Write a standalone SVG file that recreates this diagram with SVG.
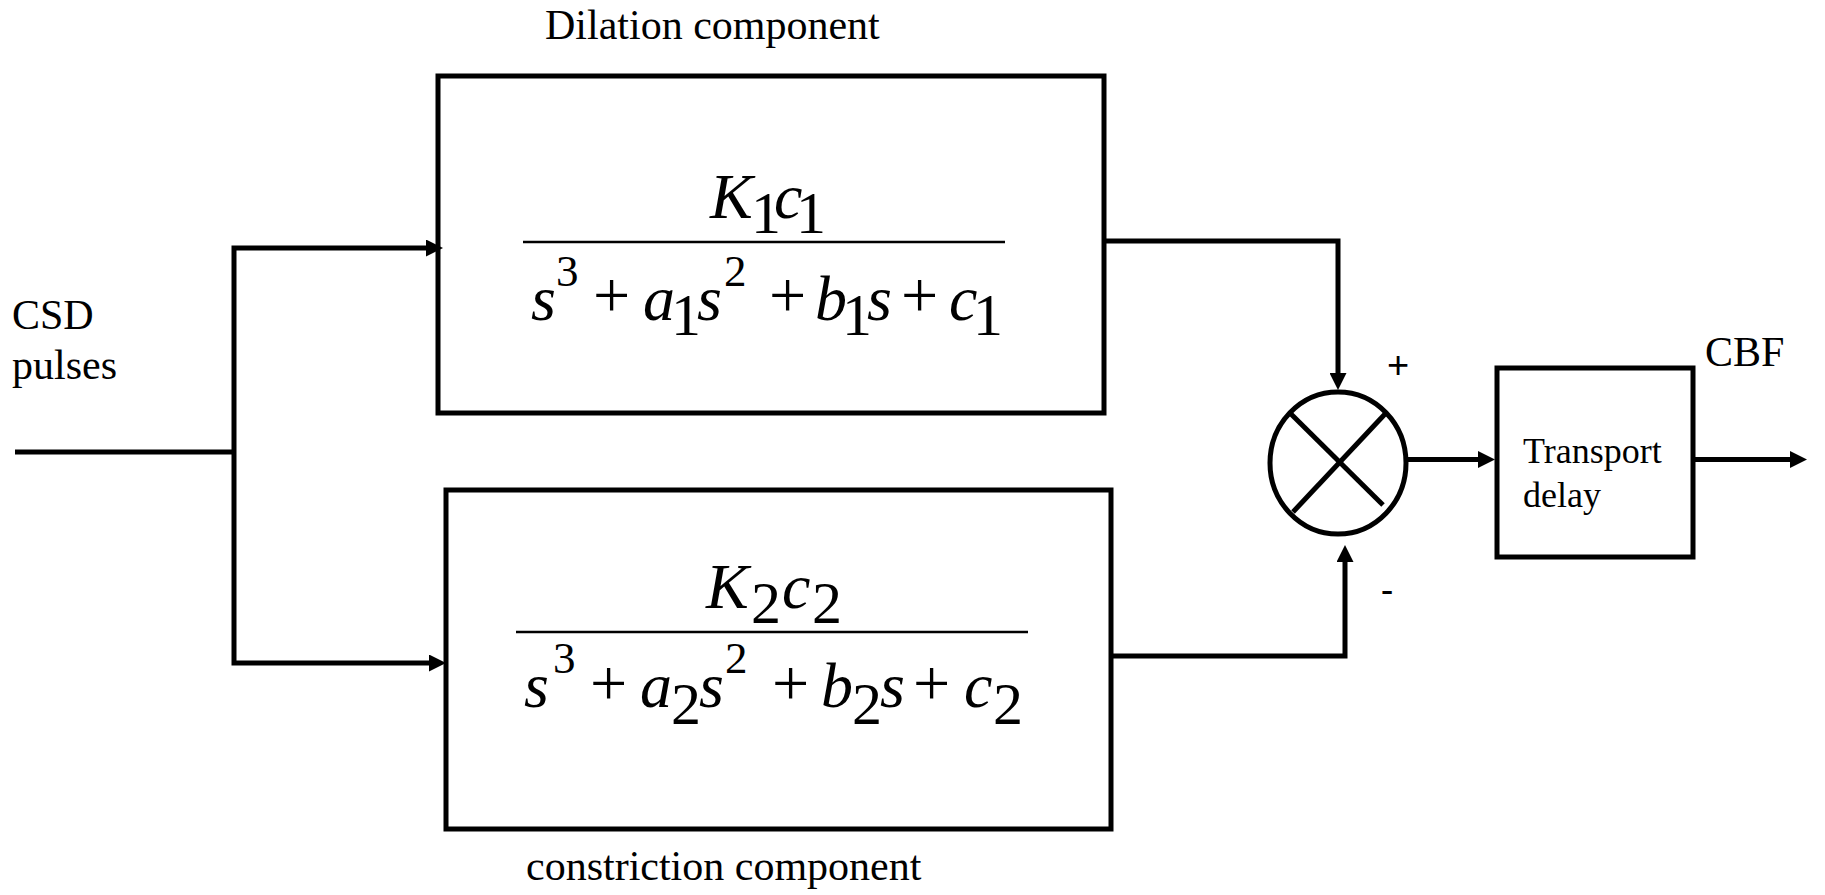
<svg xmlns="http://www.w3.org/2000/svg" width="1825" height="895" viewBox="0 0 1825 895">
<style>
.box{fill:none;stroke:#000;stroke-width:5}
.wire{fill:none;stroke:#000;stroke-width:5;stroke-linejoin:miter}
.frac{stroke:#000;stroke-width:2.5}
.lbl{font-family:"Liberation Serif","Times New Roman",serif;font-size:42px;fill:#000}
.small{font-family:"Liberation Serif","Times New Roman",serif;font-size:36px;fill:#000}
.sign{font-family:"Liberation Sans",Arial,sans-serif;font-size:38px;fill:#000}
.m{font-family:"Liberation Serif","Times New Roman",serif;font-size:64px;fill:#000}
.i{font-style:italic}
.d{font-size:60px}
.sup{font-size:45px}
.op{font-size:66px}
</style>
<defs>
<marker id="ah" viewBox="0 0 17 17" refX="9" refY="8.5" markerWidth="17" markerHeight="17" markerUnits="userSpaceOnUse" orient="auto">
<path d="M0,0 L17,8.5 L0,17 z" fill="#000"/>
</marker>
</defs>
<rect width="1825" height="895" fill="#fff"/>
<g id="connectors">
<path class="wire" d="M15,452 H234"/>
<path class="wire" d="M234,452 V248 H435" marker-end="url(#ah)"/>
<path class="wire" d="M234,452 V663 H438" marker-end="url(#ah)"/>
<path class="wire" d="M1104,241 H1338 V382" marker-end="url(#ah)"/>
<path class="wire" d="M1111,656 H1345 V553" marker-end="url(#ah)"/>
<path class="wire" d="M1408,459.5 H1487" marker-end="url(#ah)"/>
<path class="wire" d="M1693,459.5 H1799" marker-end="url(#ah)"/>
</g>
<g id="input-label">
<text class="lbl" x="12" y="329">CSD</text>
<text class="lbl" x="12" y="379">pulses</text>
</g>
<g id="dilation">
<rect class="box" x="438" y="76" width="666" height="337"/>
<text class="lbl" x="545" y="39">Dilation component</text>
<line class="frac" x1="523" y1="242" x2="1005" y2="242"/>
<text class="m">
<tspan class="i" x="710" y="218">K</tspan><tspan class="d" x="751" y="233">1</tspan><tspan class="i" x="774" y="218">c</tspan><tspan class="d" x="796" y="233">1</tspan>
</text>
<text class="m">
<tspan class="i" x="531" y="320">s</tspan><tspan class="sup" x="556" y="286">3</tspan><tspan class="op" x="593" y="317">+</tspan><tspan class="i" x="643" y="320">a</tspan><tspan class="d" x="671" y="335">1</tspan><tspan class="i" x="697" y="320">s</tspan><tspan class="sup" x="724" y="286">2</tspan><tspan class="op" x="769" y="317">+</tspan><tspan class="i" x="815" y="320">b</tspan><tspan class="d" x="842" y="335">1</tspan><tspan class="i" x="867" y="320">s</tspan><tspan class="op" x="901" y="317">+</tspan><tspan class="i" x="949" y="320">c</tspan><tspan class="d" x="973" y="335">1</tspan>
</text>
</g>
<g id="constriction">
<rect class="box" x="446" y="490" width="665" height="339"/>
<text class="lbl" x="526" y="880">constriction component</text>
<line class="frac" x1="516" y1="632" x2="1028" y2="632"/>
<text class="m">
<tspan class="i" x="706" y="608">K</tspan><tspan class="d" x="751" y="623">2</tspan><tspan class="i" x="782" y="608">c</tspan><tspan class="d" x="812" y="623">2</tspan>
</text>
<text class="m">
<tspan class="i" x="524" y="707">s</tspan><tspan class="sup" x="553" y="673">3</tspan><tspan class="op" x="590" y="705">+</tspan><tspan class="i" x="640" y="707">a</tspan><tspan class="d" x="671" y="724">2</tspan><tspan class="i" x="699" y="707">s</tspan><tspan class="sup" x="725" y="673">2</tspan><tspan class="op" x="772" y="705">+</tspan><tspan class="i" x="821" y="707">b</tspan><tspan class="d" x="852" y="724">2</tspan><tspan class="i" x="880" y="707">s</tspan><tspan class="op" x="913" y="705">+</tspan><tspan class="i" x="964" y="707">c</tspan><tspan class="d" x="993" y="724">2</tspan>
</text>
</g>
<g id="multiplier">
<ellipse class="box" cx="1338" cy="463" rx="68" ry="71"/>
<line class="wire" x1="1291" y1="414" x2="1383" y2="505"/>
<line class="wire" x1="1385" y1="414" x2="1293" y2="512"/>
<text class="sign" x="1398" y="378" text-anchor="middle">+</text>
<text class="sign" x="1387" y="603" text-anchor="middle">-</text>
</g>
<g id="transport">
<rect class="box" x="1497" y="368" width="196" height="189"/>
<text class="small" x="1523" y="463">Transport</text>
<text class="small" x="1523" y="507">delay</text>
</g>
<g id="output-label">
<text class="lbl" x="1705" y="366">CBF</text>
</g>
</svg>
